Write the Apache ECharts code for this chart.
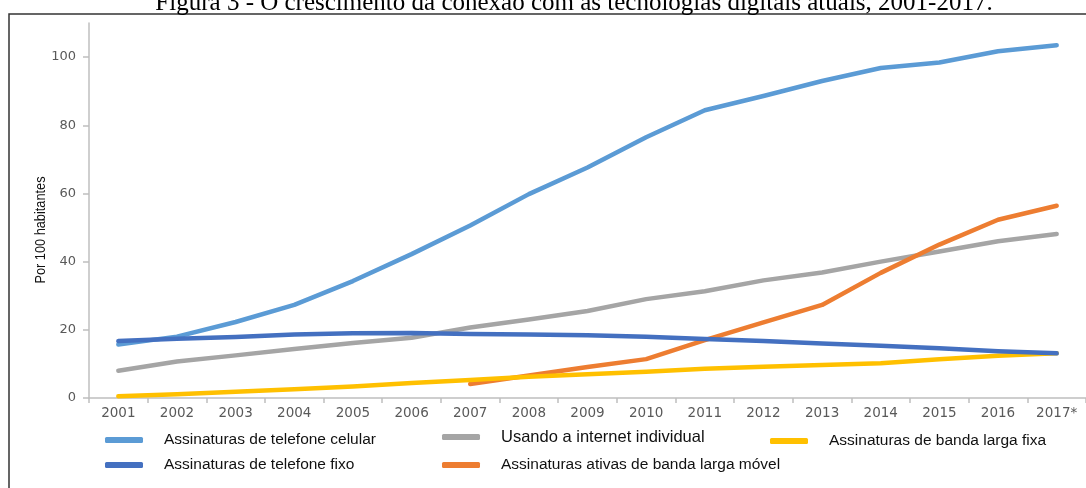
<!DOCTYPE html>
<html>
<head>
<meta charset="utf-8">
<script src="https://cdn.jsdelivr.net/npm/echarts@6/dist/echarts.min.js"></script>
<style>
  html, body { margin: 0; padding: 0; background: #fff; }
  #chart { width: 1086px; height: 488px; }
</style>
</head>
<body>
<div id="chart"></div>
<script>
// dados (por 100 habitantes)
var anos = ['2001', '2002', '2003', '2004', '2005', '2006', '2007', '2008', '2009',
            '2010', '2011', '2012', '2013', '2014', '2015', '2016', '2017*'];
var celular  = [15.7, 18.0, 22.3, 27.3, 34.3, 42.2, 50.6, 59.8, 67.6, 76.5, 84.4, 88.6, 93.0, 96.8, 98.4, 101.7, 103.5];
var fixo     = [16.7, 17.4, 17.9, 18.6, 19.0, 19.1, 18.8, 18.6, 18.4, 18.0, 17.3, 16.7, 16.0, 15.3, 14.6, 13.7, 13.1];
var internet = [8.0, 10.7, 12.5, 14.4, 16.1, 17.7, 20.7, 23.0, 25.5, 29.0, 31.3, 34.5, 36.8, 40.0, 43.0, 46.0, 48.1];
var movel    = [null, null, null, null, null, null, 4.1, 6.6, 9.1, 11.4, 17.0, 22.2, 27.3, 36.7, 45.0, 52.3, 56.4];
var fixa     = [0.5, 1.1, 1.8, 2.6, 3.4, 4.4, 5.3, 6.2, 7.0, 7.7, 8.6, 9.2, 9.7, 10.2, 11.4, 12.4, 13.1];
var yTicks = [0, 20, 40, 60, 80, 100];

var nomes = {
    celular: 'Assinaturas de telefone celular',
    fixo: 'Assinaturas de telefone fixo',
    internet: 'Usando a internet individual',
    movel: 'Assinaturas ativas de banda larga móvel',
    fixa: 'Assinaturas de banda larga fixa'
};
var cores = {
    celular: '#5B9BD5',
    fixo: '#4470C0',
    internet: '#A5A5A5',
    movel: '#ED7D31',
    fixa: '#FFC000'
};

var myChart = echarts.init(document.getElementById('chart'));

function serie(key, data, z) {
    return {
        name: nomes[key],
        type: 'line',
        data: data,
        z: z,
        symbol: 'none',
        connectNulls: false,
        color: cores[key],
        lineStyle: { width: 4.5, color: cores[key], cap: 'round', join: 'round' }
    };
}

// cada item da legenda posicionado a mao
function legenda(key, left, top, fontSize) {
    return {
        data: [nomes[key]],
        left: left,
        top: top,
        padding: 0,
        icon: 'roundRect',
        itemWidth: 38,
        itemHeight: 6,
        selectedMode: false,
        textStyle: {
            fontFamily: 'Liberation Sans',
            fontSize: fontSize,
            color: '#111',
            lineHeight: 18,
            padding: [0, 0, 0, 16]
        }
    };
}

var option = {
    animation: false,
    backgroundColor: '#fff',
    grid: { left: 89, right: 0, top: 23, bottom: 90 },
    graphic: [
        {
            type: 'rect',
            shape: { x: 9, y: 14, width: 1100, height: 500 },
            style: { fill: 'none', stroke: '#333', lineWidth: 1.5 }
        },
        {
            type: 'text',
            x: 574, y: 16,
            style: {
                text: 'Figura 3 - O crescimento da conexão com as tecnologias digitais atuais, 2001-2017.',
                font: '25px "Liberation Serif", serif',
                fill: '#000',
                align: 'center',
                verticalAlign: 'bottom'
            }
        },
        {
            type: 'text',
            x: 41, y: 230,
            rotation: Math.PI / 2,
            scaleX: 0.85,
            style: {
                text: 'Por 100 habitantes',
                font: '15px "Liberation Sans Narrow", "Liberation Sans", sans-serif',
                fill: '#111',
                align: 'center',
                verticalAlign: 'middle'
            }
        }
    ],
    legend: [
        legenda('celular', 105, 431, 15.5),
        legenda('fixo', 105, 456, 15.5),
        legenda('internet', 442, 428, 16.5),
        legenda('movel', 442, 456, 15.5),
        legenda('fixa', 770, 432, 15.5)
    ],
    xAxis: {
        type: 'category',
        boundaryGap: true,
        data: anos,
        axisLine: { lineStyle: { color: '#BFBFBF', width: 1.5 } },
        axisTick: { show: true, length: 5, lineStyle: { color: '#BFBFBF', width: 1.5 } },
        axisLabel: {
            margin: 8,
            color: '#595959',
            fontFamily: 'DejaVu Sans',
            fontSize: 13.5,
            interval: 0
        }
    },
    yAxis: {
        type: 'value',
        min: 0,
        max: 110,
        interval: 20,
        splitLine: { show: false },
        axisLine: { show: true, lineStyle: { color: '#BFBFBF', width: 1.5 } },
        axisTick: { show: true, length: 6, customValues: yTicks, lineStyle: { color: '#BFBFBF', width: 1.5 } },
        axisLabel: {
            margin: 13,
            color: '#595959',
            fontFamily: 'DejaVu Sans',
            fontSize: 13,
            customValues: yTicks
        }
    },
    series: [
        serie('celular', celular, 2),
        serie('internet', internet, 3),
        serie('movel', movel, 4),
        serie('fixa', fixa, 5),
        serie('fixo', fixo, 6)
    ]
};

myChart.setOption(option);
window.addEventListener('resize', myChart.resize);
</script>
</body>
</html>
